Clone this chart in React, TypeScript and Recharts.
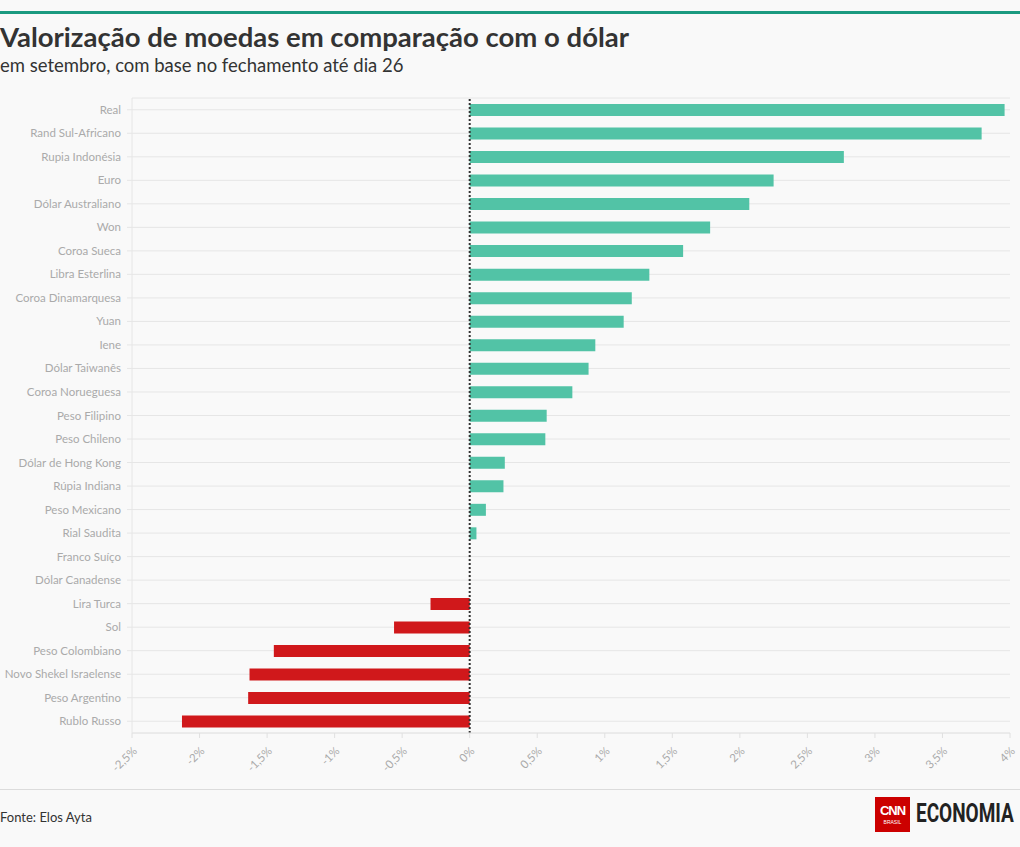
import React from "react";
import {
  BarChart,
  Bar,
  XAxis,
  YAxis,
  CartesianGrid,
  ReferenceLine,
  Cell,
} from "recharts";

const currencies = [
  "Real",
  "Rand Sul-Africano",
  "Rupia Indonésia",
  "Euro",
  "Dólar Australiano",
  "Won",
  "Coroa Sueca",
  "Libra Esterlina",
  "Coroa Dinamarquesa",
  "Yuan",
  "Iene",
  "Dólar Taiwanês",
  "Coroa Norueguesa",
  "Peso Filipino",
  "Peso Chileno",
  "Dólar de Hong Kong",
  "Rúpia Indiana",
  "Peso Mexicano",
  "Rial Saudita",
  "Franco Suíço",
  "Dólar Canadense",
  "Lira Turca",
  "Sol",
  "Peso Colombiano",
  "Novo Shekel Israelense",
  "Peso Argentino",
  "Rublo Russo",
];

const changes = [
  3.96, 3.79, 2.77, 2.25, 2.07, 1.78, 1.58, 1.33, 1.2, 1.14, 0.93, 0.88, 0.76,
  0.57, 0.56, 0.26, 0.25, 0.12, 0.05, 0, 0, -0.29, -0.56, -1.45, -1.63, -1.64,
  -2.13,
];

const xTicks = [-2.5, -2, -1.5, -1, -0.5, 0, 0.5, 1, 1.5, 2, 2.5, 3, 3.5, 4];

const UP = "#52c3a6";
const DOWN = "#d0181b";
const FONT = "Lato, 'Noto Sans', sans-serif";

const data = currencies.map((name, i) => ({ name, value: changes[i] }));

const fmt = (v: number) => `${String(v).replace(".", ",")}%`;

const XTick = (props: any) => {
  const { x, y, payload } = props;
  return (
    <g transform={`translate(${x},${y + 6})`}>
      <text
        x={0}
        y={0}
        dy={8}
        textAnchor="end"
        transform="rotate(-45)"
        fill="#aaa"
        fontSize={11.5}
        fontFamily={FONT}
      >
        {fmt(payload.value)}
      </text>
    </g>
  );
};

const YTick = (props: any) => {
  const { x, y, payload } = props;
  return (
    <text
      x={x - 4}
      y={y}
      dy={4}
      textAnchor="end"
      fill="#aaa"
      fontSize={11.5}
      fontFamily={FONT}
    >
      {payload.value}
    </text>
  );
};

const App = () => {
  return (
    <div
      style={{
        position: "relative",
        width: 1020,
        height: 847,
        background: "#f9f9f9",
        fontFamily: FONT,
        color: "#333",
        overflow: "hidden",
      }}
    >
      <style>{`body{margin:0}`}</style>
      <div
        style={{
          position: "absolute",
          top: 11,
          left: 0,
          width: 1020,
          height: 3,
          background: "#1b9a80",
        }}
      />
      <div
        style={{
          position: "absolute",
          top: 20,
          left: 0,
          fontSize: 27.5,
          fontWeight: 700,
          whiteSpace: "nowrap",
        }}
      >
        Valorização de moedas em comparação com o dólar
      </div>
      <div
        style={{
          position: "absolute",
          top: 54,
          left: 0,
          fontSize: 18.5,
          whiteSpace: "nowrap",
        }}
      >
        em setembro, com base no fechamento até dia 26
      </div>

      <div style={{ position: "absolute", top: 90, left: 0 }}>
        <BarChart
          width={1020}
          height={700}
          data={data}
          layout="vertical"
          margin={{ top: 8, right: 10, bottom: 17, left: 0 }}
          barSize={12}
        >
          <CartesianGrid horizontal vertical={false} stroke="#e6e6e6" />
          <XAxis
            type="number"
            domain={[-2.5, 4]}
            ticks={xTicks}
            interval={0}
            height={40}
            axisLine={{ stroke: "#e6e6e6" }}
            tickLine={{ stroke: "#e0e0e0" }}
            tickSize={5}
            tick={<XTick />}
          />
          <YAxis
            type="category"
            dataKey="name"
            width={132}
            interval={0}
            axisLine={{ stroke: "#e6e6e6" }}
            tickLine={{ stroke: "#e6e6e6" }}
            tickSize={5}
            tick={<YTick />}
          />
          <Bar dataKey="value" isAnimationActive={false}>
            {data.map((d, i) => (
              <Cell key={i} fill={d.value < 0 ? DOWN : UP} />
            ))}
          </Bar>
          <ReferenceLine
            x={0}
            stroke="#333"
            strokeWidth={2}
            strokeDasharray="2 2"
          />
        </BarChart>
      </div>

      <div
        style={{
          position: "absolute",
          top: 789,
          left: 0,
          width: 1020,
          height: 1,
          background: "#dcdcdc",
        }}
      />
      <div
        style={{
          position: "absolute",
          top: 809,
          left: 0,
          fontSize: 13,
          whiteSpace: "nowrap",
        }}
      >
        Fonte: Elos Ayta
      </div>
      <div
        style={{
          position: "absolute",
          top: 797,
          left: 875,
          width: 35,
          height: 35,
          background: "#cc0000",
          color: "#fff",
          textAlign: "center",
          fontFamily: "'Liberation Sans', sans-serif",
        }}
      >
        <div style={{ fontSize: 13, fontWeight: 700, marginTop: 6, letterSpacing: -1 }}>
          CNN
        </div>
        <div style={{ fontSize: 5, marginTop: 1 }}>BRASIL</div>
      </div>
      <div
        style={{
          position: "absolute",
          top: 799,
          left: 916,
          fontSize: 25,
          fontWeight: 700,
          color: "#222",
          fontFamily: "'Roboto', sans-serif",
          whiteSpace: "nowrap",
          transform: "scaleX(0.76)",
          transformOrigin: "left top",
        }}
      >
        ECONOMIA
      </div>
    </div>
  );
};

export default App;
